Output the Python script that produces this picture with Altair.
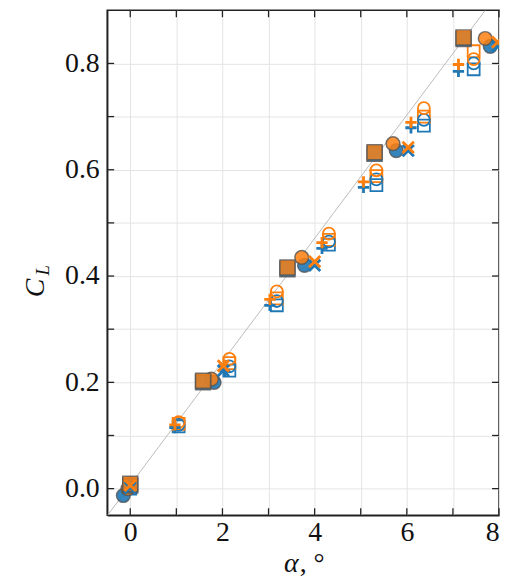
import altair as alt
import pandas as pd

BLUE = "#1f77b4"
ORANGE = "#ff7f0e"
SERIF = "Liberation Serif"

# reference line
line_a = [-0.5, 7.7]
line_c = [-0.051, 0.9]

# filled squares
sq_a = [0.0, 1.58, 3.41, 5.30, 7.23]
sq_c_blue = [0.006, 0.200, 0.413, 0.630, 0.846]
sq_c_orange = [0.009, 0.203, 0.416, 0.633, 0.849]

# filled circles
circ_a_blue = [-0.15, 1.82, 3.78, 5.77, 7.81]
circ_c_blue = [-0.013, 0.200, 0.420, 0.636, 0.832]
circ_a_orange = [-0.05, 1.76, 3.72, 5.70, 7.70]
circ_c_orange = [0.000, 0.206, 0.435, 0.649, 0.847]

# crosses
x_a = [0.0, 2.02, 4.00, 6.03, 7.97]
x_c_blue = [0.002, 0.222, 0.420, 0.636, 0.832]
x_c_orange = [0.006, 0.231, 0.427, 0.642, 0.840]

# open markers
open_a = [0.0, 1.05, 2.15, 3.18, 4.31, 5.34, 6.37, 7.45]
plus_a = [-0.05, 0.97, 2.05, 3.03, 4.16, 5.06, 6.09, 7.12]
plus_c_blue = [0.000, 0.115, 0.222, 0.345, 0.452, 0.567, 0.679, 0.785]
plus_c_orange = [0.005, 0.120, 0.232, 0.356, 0.463, 0.577, 0.689, 0.798]
osq_c_blue = [0.000, 0.117, 0.222, 0.345, 0.459, 0.571, 0.683, 0.789]
osq_c_orange = [0.005, 0.122, 0.236, 0.358, 0.468, 0.588, 0.700, 0.823]
ocirc_c_blue = [0.003, 0.120, 0.230, 0.353, 0.465, 0.582, 0.694, 0.800]
ocirc_c_orange = [0.010, 0.125, 0.244, 0.371, 0.480, 0.599, 0.716, 0.808]

x_ticks = [0, 1, 2, 3, 4, 5, 6, 7, 8]
y_ticks = [0.0, 0.1, 0.2, 0.3, 0.4, 0.5, 0.6, 0.7, 0.8]

W, H = 395, 509

xs = alt.Scale(domain=[-0.5, 8], nice=False, zero=False)
ys = alt.Scale(domain=[-0.05, 0.9], nice=False, zero=False)

X_AXIS = alt.Axis(values=x_ticks, ticks=False, grid=True,
                  labelExpr="datum.value % 2 == 0 ? datum.label : ''")
Y_AXIS = alt.Axis(values=y_ticks, ticks=False, grid=True,
                  labelExpr="round(datum.value*10) % 2 == 0 ? format(datum.value, '.1f') : ''")


def xenc(f):
    return alt.X(f"{f}:Q", scale=xs, title=None, axis=X_AXIS)


def yenc(f):
    return alt.Y(f"{f}:Q", scale=ys, title=None, axis=Y_AXIS)


PLUS = "M-1,0L1,0M0,-1L0,1"
CROSS = "M-1,-1L1,1M-1,1L1,-1"


def pts(a, c, shape, color, filled, size, sw=1.5, opacity=1.0):
    df = pd.DataFrame({"a": a, "c": c})
    kw = dict(shape=shape, size=size, filled=filled, clip=True, strokeWidth=sw)
    if filled:
        kw.update(fill=color, fillOpacity=opacity, stroke="#555555", strokeOpacity=0.8)
    else:
        kw.update(stroke=color, fillOpacity=0)
    return alt.Chart(df).mark_point(**kw).encode(x=xenc("a"), y=yenc("c"))


ref = alt.Chart(pd.DataFrame({"a": line_a, "c": line_c})).mark_line(
    color="#bbbbbb", strokeWidth=1, clip=True
).encode(x=xenc("a"), y=yenc("c"))

xt = pd.DataFrame({"a": x_ticks})
yt = pd.DataFrame({"c": y_ticks})
tick_style = dict(color="#222222", strokeWidth=1.3)
ticks = [
    alt.Chart(xt).mark_rule(**tick_style).encode(x=xenc("a"), y=alt.value(H), y2=alt.value(H - 7)),
    alt.Chart(xt).mark_rule(**tick_style).encode(x=xenc("a"), y=alt.value(0), y2=alt.value(7)),
    alt.Chart(yt).mark_rule(**tick_style).encode(y=yenc("c"), x=alt.value(0), x2=alt.value(7)),
    alt.Chart(yt).mark_rule(**tick_style).encode(y=yenc("c"), x=alt.value(W), x2=alt.value(W - 7)),
]

markers = [
    pts(open_a, osq_c_blue, "square", BLUE, False, 145, sw=1.8),
    pts(open_a, osq_c_orange, "square", ORANGE, False, 145, sw=1.8),
    pts(open_a, ocirc_c_blue, "circle", BLUE, False, 145, sw=1.8),
    pts(open_a, ocirc_c_orange, "circle", ORANGE, False, 145, sw=1.8),
    pts(plus_a, plus_c_blue, PLUS, BLUE, False, 130, sw=2.8),
    pts(plus_a, plus_c_orange, PLUS, ORANGE, False, 130, sw=2.8),
    pts(circ_a_blue, circ_c_blue, "circle", BLUE, True, 190, opacity=0.9),
    pts(circ_a_orange, circ_c_orange, "circle", ORANGE, True, 190, opacity=0.85),
    pts(sq_a, sq_c_blue, "square", BLUE, True, 230, opacity=0.9),
    pts(sq_a, sq_c_orange, "square", ORANGE, True, 230, opacity=0.8),
    pts(x_a, x_c_blue, CROSS, BLUE, False, 130, sw=2.8),
    pts(x_a, x_c_orange, CROSS, ORANGE, False, 130, sw=2.8),
]


def label(t, x, y, size, style="normal", angle=0, align="center", baseline="alphabetic"):
    kw = dict(font=SERIF, fontSize=size, fontStyle=style, align=align, baseline=baseline, color="#111111")
    if angle:
        kw["angle"] = angle
    return alt.Chart(pd.DataFrame({"t": [t]})).mark_text(**kw).encode(
        text="t:N", x=alt.value(x), y=alt.value(y)
    )


titles = [
    label("C", -72, 280, 28, "italic", angle=270, baseline="middle"),
    label("L", -65, 262, 19, "italic", angle=270, baseline="middle"),
    label("α", 193, 566, 28, "italic", align="right"),
    label(", °", 194, 566, 28, align="left"),
]

chart = alt.layer(ref, *ticks, *markers, *titles).properties(
    width=W, height=H,
    autosize=alt.AutoSizeParams(type="none"),
    padding={"left": 100, "top": 0, "right": 3, "bottom": 63},
).configure_axis(
    labelFont=SERIF, labelFontSize=28, labelColor="#111111",
    domainColor="#222222", domainWidth=1.5,
    gridColor="#e4e4e4", gridWidth=1,
).configure_axisX(labelPadding=4).configure_axisY(labelPadding=8).configure_view(
    stroke="#222222", strokeWidth=1.5
)

chart.save("out.html", embed_options={"renderer": "svg", "actions": False})
